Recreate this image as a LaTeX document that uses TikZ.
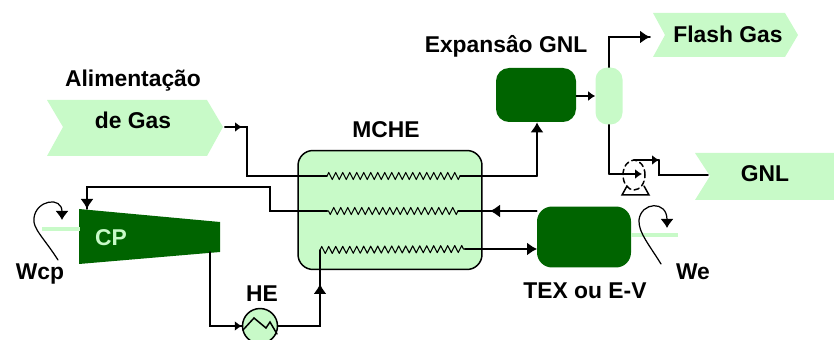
\documentclass[tikz,border=0pt]{standalone}
\usepackage{fontspec}
\setmainfont{Liberation Sans}
\usetikzlibrary{arrows.meta,decorations.pathmorphing,shapes.geometric}
\definecolor{palegreen}{HTML}{C8FAC8}
\definecolor{darkgreen}{HTML}{006400}

\begin{document}
\begin{tikzpicture}[x=0.02cm, y=-0.02cm, line cap=round, line join=round, >=Latex]
\tikzset{pipe/.style={line width=0.85pt, line join=miter},
  flow/.style={pipe, -{Latex[length=0.2cm,width=0.26cm]}},
  smallflow/.style={pipe, -{Latex[length=0.14cm,width=0.2cm]}},
  coil/.style={line width=0.6pt, decorate, decoration={zigzag, segment length=0.14cm, amplitude=0.07cm}},
  label/.style={font=\bfseries\fontsize{13}{15}\selectfont, text=black, inner sep=0pt},
  tagfill/.style={fill=palegreen},
  vessel/.style={fill=darkgreen, rounded corners=0.26cm, minimum width=1.6cm, minimum height=1.08cm, inner sep=0pt},
  stub/.style={palegreen, line width=2.6pt, line cap=butt},
  work/.style={line width=0.7pt, -{Latex[length=0.18cm,width=0.26cm]}}}
\useasboundingbox (0,0) rectangle (834,340);

% stream tags
\fill[tagfill] (47,100) -- (207,100) -- (223,127) -- (207,156) -- (47,156) -- (63,127) -- cycle;
\fill[tagfill] (653,13) -- (785,13) -- (798,35) -- (785,57) -- (653,57) -- (665,35) -- cycle;
\fill[tagfill] (695,153) -- (834,153) -- (834,200) -- (695,200) -- (710,176) -- cycle;

% equipment
\node[draw=black, fill=palegreen, line width=0.85pt, rounded corners=0.3cm, minimum width=3.68cm, minimum height=2.38cm, inner sep=0pt] (mche) at (390,210) {};
\node[vessel] (expansion) at (536,95) {};
\node[vessel, minimum width=1.88cm, minimum height=1.22cm, rounded corners=0.3cm] (tex) at (584,237) {};
\node[fill=palegreen, rounded corners=0.24cm, minimum width=0.54cm, minimum height=1.14cm, inner sep=0pt] (sep) at (609,96) {};
\node[draw=black, fill=palegreen, line width=0.85pt, circle, minimum size=0.7cm, inner sep=0pt] (he) at (260,326) {};
\node[draw=black, line width=0.85pt, densely dashed, ellipse, minimum width=0.44cm, minimum height=0.6cm, inner sep=0pt] (pump) at (634,175) {};
\fill[darkgreen] (79,209) -- (220,222) -- (220,252) -- (79,264) -- cycle;

% way points
\coordinate (F1) at (225,127);
\coordinate (F2) at (242,127);
\coordinate (F3) at (247,127);
\coordinate (F4) at (247,176);
\coordinate (A1) at (327,176);
\coordinate (A2) at (460,176);
\coordinate (A3) at (537,176);
\coordinate (B1) at (458,211);
\coordinate (B2) at (327,211);
\coordinate (B3) at (270,211);
\coordinate (B4) at (270,187);
\coordinate (B5) at (87,187);
\coordinate (B6) at (87,209);
\coordinate (B7) at (490,211);
\coordinate (C1) at (210,252);
\coordinate (C2) at (210,326);
\coordinate (C3) at (320,326);
\coordinate (C4) at (320,250);
\coordinate (C5) at (320,284);
\coordinate (C6) at (465,249);
\coordinate (C7) at (537,249);
\coordinate (D1) at (609,37);
\coordinate (D2) at (650,37);
\coordinate (E1) at (609,174);
\coordinate (E2) at (642,174);
\coordinate (E3) at (634,160);
\coordinate (E4) at (659,160);
\coordinate (E5) at (659,175);
\coordinate (E6) at (708,175);

% feed line
\draw[pipe] (F1)--(F3)--(F4)--(A1);
\draw[smallflow] (F1)--(F2);
\draw[coil] (A1)--(A2);
\draw[pipe] (A2)--(A3);
\draw[flow] (A3)--(expansion.south-|A3);

% refrigerant
\draw[pipe] (tex.west|-B1)--(B1);
\draw[flow] (tex.west|-B1)--(B7);
\draw[coil] (B1)--(B2);
\draw[pipe] (B2)--(B3)--(B4)--(B5)--(B6);
\draw[flow] (B5)--(B6);
\draw[pipe] (C1)--(C2)--(he.west);
\draw[smallflow] (C2)--(he.west);
\draw[pipe] (he.east)--(C3)--(C4);
\draw[flow] (C3)--(C5);
\draw[coil] (C4)--(C6);
\draw[flow] (C6)--(C7);

% products
\draw[smallflow] (expansion.east|-sep.west)--(sep.west);
\draw[pipe] (sep.north)--(D1)--(D2);
\draw[flow] (D1)--(D2);
\draw[pipe] (sep.south)--(E1);
\draw[smallflow] (E1)--(E2);
\draw[pipe] (E3)--(E4);
\draw[smallflow] (E3)--(E4);
\draw[pipe] (E4)--(E5)--(E6);

% pump base, cooler zigzag
\draw[pipe] (627,186)--(622,195)--(649,195)--(644,186);
\draw[pipe] (243,330)--(254,318)--(266,328)--(270,322)--(277,334);

% shaft work
\draw[stub] (42,229)--(80,229);
\draw[stub] (631,235)--(678,235);
\draw[work] (58,260) .. controls (44,238) and (32,228) .. (34,218) .. controls (36,200) and (62,196) .. (62,220);
\draw[work] (661,264) .. controls (650,246) and (638,232) .. (639,220) .. controls (641,202) and (667,200) .. (667,228);

% labels
\node[label] (feedtop) at (133,81) {Alimentação};
\node[label] (feed) at (133,120) {de Gas};
\node[label] (mchetext) at (386,130) {MCHE};
\node[label] (expansiontext) at (506,46) {Expansâo GNL};
\node[label] (flash) at (728,34) {Flash Gas};
\node[label] (gnl) at (765,174) {GNL};
\node[label] (textext) at (585,291) {TEX ou E-V};
\node[label] (we) at (693,272) {We};
\node[label] (wcp) at (40,274) {Wcp};
\node[label] (hetext) at (262,294) {HE};
\node[label, text=palegreen] (cp) at (111,238) {CP};
\end{tikzpicture}
\end{document}
